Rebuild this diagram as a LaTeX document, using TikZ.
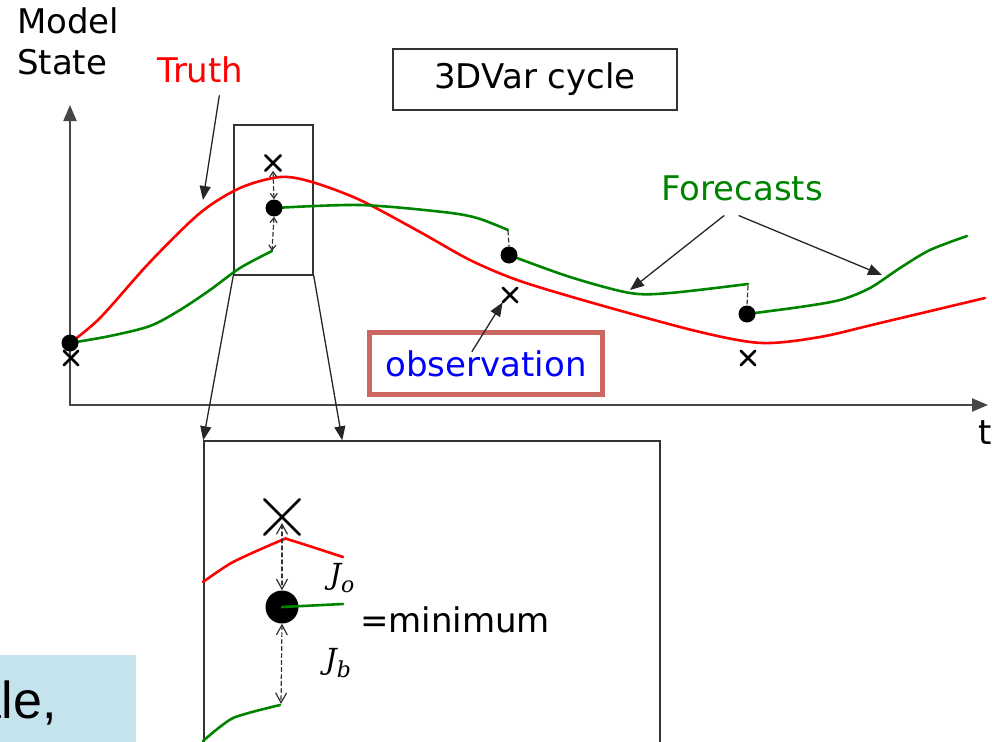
\documentclass[tikz,border=0pt]{standalone}
\usepackage{fontspec}
\setmainfont{DejaVu Sans}
\newfontfamily\slidefont{Liberation Sans}
\newfontfamily\jfont{DejaVu Serif}
\usetikzlibrary{arrows.meta,shapes.misc}
\definecolor{fcgreen}{RGB}{0,132,0}
\definecolor{obsred}{RGB}{204,102,96}
\definecolor{slideblue}{RGB}{197,227,236}
\definecolor{axisgray}{RGB}{70,70,70}
\newcommand{\costterm}[1]{J\raisebox{-0.28em}{\fontsize{22}{26}\selectfont #1}}

\begin{document}
\begin{tikzpicture}[x=1pt,y=-1pt,>={Triangle[length=14pt,width=11pt]},line cap=round,
  lbl/.style={inner sep=0pt,font=\fontsize{34}{41}\selectfont},
  jlbl/.style={inner sep=0pt,font=\jfont\itshape\fontsize{29}{34}\selectfont},
  truthline/.style={red,line width=2.6pt},
  fcline/.style={fcgreen,line width=2.6pt},
  pointer/.style={->,line width=1.3pt,black!85},
  frame/.style={draw=black!80,line width=1.5pt},
  dot/.style={circle,fill=black,inner sep=0pt,minimum size=#1},
  obsx/.style={cross out,draw=black,inner sep=0pt,minimum size=#1,line width=2.6pt},
  gap/.style={black!80,line width=1.2pt,dash pattern=on 4pt off 3pt},
  smallgap/.style={gap,{Straight Barb[length=5pt,width=7pt]}-{Straight Barb[length=5pt,width=7pt]}},
  biggap/.style={gap,{Straight Barb[length=10pt,width=11pt]}-{Straight Barb[length=10pt,width=11pt]}}]
\useasboundingbox (0,0) rectangle (992,741);
\fill[slideblue] (0,655) rectangle (136,745);
\node[inner sep=0pt,anchor=base east,font=\slidefont\fontsize{52}{60}\selectfont] (slide) at (57,718) {ale,};
\draw[axisgray,line width=2pt,-{Triangle[length=16pt,width=13pt]}] (70,405) -- (70,105);
\draw[axisgray,line width=2pt,-{Triangle[length=16pt,width=13pt]}] (70,405) -- (988,405);
\node[lbl,anchor=base west] (tlabel) at (978,444) {t};
\node[lbl,anchor=base west] (model) at (17,34) {Model};
\node[lbl,anchor=base west] (state) at (17,75) {State};
\node[lbl,anchor=base west,red] (truth) at (157,83) {Truth};
\node[lbl,frame,minimum width=284pt,minimum height=61pt] (cycle) at (535,79.5) {3DVar cycle};
\node[lbl,anchor=base west,fcgreen] (fc) at (661,200) {Forecasts};
\node[frame] (zoomwin) [minimum width=79pt,minimum height=150pt] at (273.5,200) {};
\node[frame,fill=white] (bigwin) [minimum width=456pt,minimum height=340pt] at (432,611) {};
\draw[truthline] plot[smooth,tension=0.5] coordinates {(70,343) (100,318) (150,262) (200,213) (240,188) (280,177) (312,182) (360,200) (420,232) (470,260) (520,281) (600,305) (700,332) (762,343) (820,337) (880,323) (985,298)};
\draw[fcline] plot[smooth,tension=0.5] coordinates {(70,343) (110,336) (150,326) (180,310) (210,290) (240,268) (272,251)};
\draw[fcline] plot[smooth,tension=0.5] coordinates {(274,208) (360,205) (443,212) (477,218) (508,230)};
\draw[fcline] plot[smooth,tension=0.5] coordinates {(509,255) (570,277) (630,293) (670,293) (748,284)};
\draw[fcline] plot[smooth,tension=0.5] coordinates {(747,314) (800,307) (840,300) (870,288) (900,268) (930,250) (967,236)};
\node[dot=17pt] (f0) at (70,343) {};
\node[dot=17pt] (f1) at (274,208) {};
\node[dot=17pt] (f2) at (509,255) {};
\node[dot=17pt] (f3) at (747,314) {};
\node[obsx=12pt] (o0) at (71,358) {};
\node[obsx=13pt] (o1) at (273,163) {};
\node[obsx=12pt] (o2) at (510,295) {};
\node[obsx=12pt] (o3) at (748,358) {};
\coordinate (g1) at (272,251);
\coordinate (g2) at (508,231);
\coordinate (g3) at (748,286);
\draw[smallgap] (o1.south) -- (f1.north);
\draw[smallgap] (f1.south) -- (g1);
\draw[gap] (g2) -- (f2.north);
\draw[gap] (g3) -- (f3.north);
\draw[pointer] (zoomwin.south west) -- (bigwin.north west);
\draw[pointer] (zoomwin.south east) -- ([xshift=139pt]bigwin.north west);
\coordinate (truthtip) at (203,200);
\draw[pointer] ([xshift=19pt,yshift=-12pt]truth.south) -- (truthtip);
\coordinate (fctip1) at (630,290);
\coordinate (fctip2) at (882,275);
\draw[pointer] ([xshift=-18pt,yshift=-15pt]fc.south) -- (fctip1);
\draw[pointer] ([xshift=-3pt,yshift=-15pt]fc.south) -- (fctip2);
\node[lbl,draw=obsred,line width=4.5pt,fill=white,text=blue,minimum width=233pt,minimum height=62pt] (obs) at (486,363.5) {observation};
\draw[pointer] ([xshift=-14pt,yshift=12pt]obs.center) -- (o2.south west);
\draw[truthline] plot[smooth,tension=0.4] coordinates {(203,582) (233,562) (282,540) (290,540) (343,557)};
\draw[fcline] plot[smooth,tension=0.4] coordinates {(203,741) (233,718) (280,705)};
\node[obsx=33pt] (bigx) at (282,517) {};
\node[dot=33pt] (bigdot) at (282,607) {};
\draw[fcline] (bigdot.center) -- (343,604);
\coordinate (bigg) at (281,704);
\draw[biggap] ([yshift=-6pt]bigx.center) -- (bigdot.north);
\draw[biggap] (bigdot.south) -- (bigg);
\node[jlbl] (jo) at (342,578) {\costterm{o}};
\node[jlbl] (jb) at (338,663) {\costterm{b}};
\node[lbl,anchor=base west] (minimum) at (360,632) {=minimum};
\end{tikzpicture}
\end{document}
